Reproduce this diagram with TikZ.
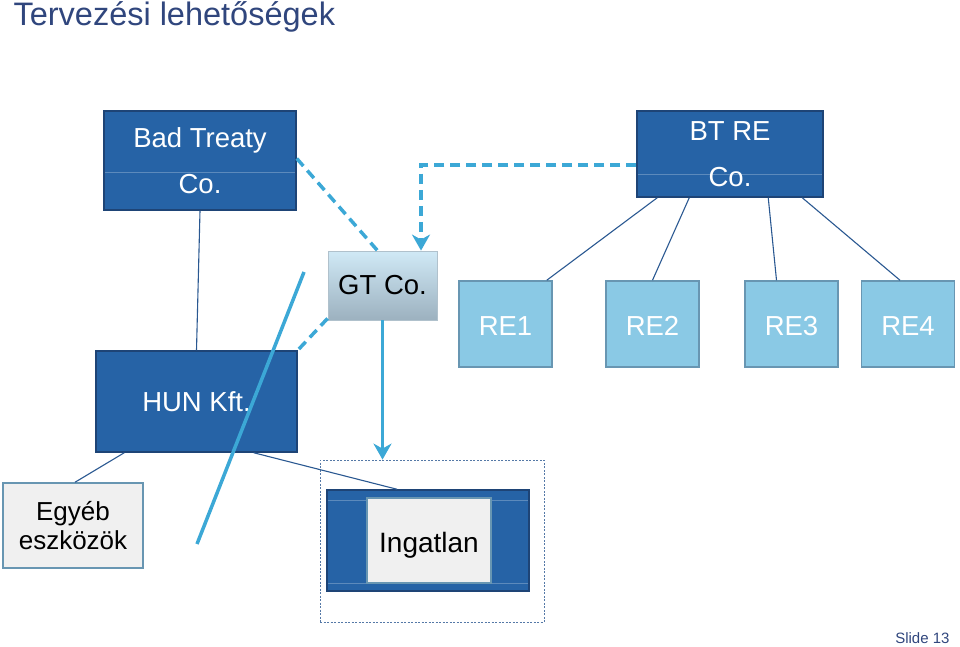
\documentclass[tikz,border=0pt]{standalone}
\usepackage{fontspec}
\setmainfont{Liberation Sans}
\usetikzlibrary{arrows.meta}
\definecolor{corpblue}{RGB}{38,99,166}
\definecolor{corpedge}{RGB}{30,68,118}
\definecolor{reblue}{RGB}{138,201,229}
\definecolor{reedge}{RGB}{104,150,178}
\definecolor{assetgray}{RGB}{240,240,240}
\definecolor{flowblue}{RGB}{60,168,214}
\definecolor{linkblue}{RGB}{42,88,145}
\definecolor{titleblue}{RGB}{48,70,125}
\definecolor{gttop}{RGB}{208,233,246}
\definecolor{gtbottom}{RGB}{156,177,191}
\begin{document}
\begin{tikzpicture}[x=1pt,y=-1pt,
  corp/.style={draw=corpedge, line width=1.5pt, fill=corpblue, text=white,
    inner sep=0pt, align=center, font=\fontsize{27.5}{46}\selectfont},
  split/.style={path picture={\draw[corpblue!75!white, line width=0.6pt]
    ([yshift=#1]path picture bounding box.west) --
    ([yshift=#1]path picture bounding box.east);}},
  sub/.style={draw=reedge, line width=1.5pt, fill=reblue, text=white,
    inner sep=0pt, minimum width=93, minimum height=86,
    text height=22pt, text depth=0pt, font=\fontsize{27.5}{30}\selectfont},
  asset/.style={draw=reedge, line width=1.5pt, fill=assetgray, text=black,
    inner sep=0pt, align=center, font=\fontsize{26}{29}\selectfont},
  link/.style={draw=linkblue, line width=1.1pt},
  flow/.style={draw=flowblue, line width=3.5pt},
  flowdash/.style={flow, dash pattern=on 10pt off 6pt},
  tip/.style={-{Stealth[width=18pt,length=16pt,inset=5pt]}}]
  \useasboundingbox (0,0) rectangle (960,647);
  % title and slide number
  \node[anchor=base west, text=titleblue, font=\fontsize{32.5}{36}\selectfont]
    (title) at (10,26) {Tervezési lehetőségek};
  \node[anchor=base east, text=titleblue, font=\fontsize{15}{18}\selectfont]
    (slide) at (953,643) {Slide 13};
  % companies
  \node[corp, split=-11.5pt, minimum width=192, minimum height=99] (bad)
    at (200,160.5) {Bad Treaty\\Co.};
  \node[corp, split=-20pt, minimum width=186, minimum height=86] (btre)
    at (730,154) {BT RE\\Co.};
  \node[corp, minimum width=201, minimum height=101] (hun) at (196.5,401.5)
    {HUN Kft.};
  \node[draw=gtbottom!80!white, line width=0.8pt, top color=gttop,
    bottom color=gtbottom, inner sep=0pt, minimum width=109, minimum height=69,
    font=\fontsize{27.5}{30}\selectfont] (gt) at (382.5,285.5) {GT Co.};
  % real estate subsidiaries
  \node[sub] (re1) at (505.5,324) {RE1};
  \node[sub] (re2) at (652.5,324) {RE2};
  \node[sub] (re3) at (791.5,324) {RE3};
  \node[sub] (re4) at (908,324) {RE4};
  % assets
  \node[asset, minimum width=140, minimum height=85] (egyeb) at (73,525.5)
    {Egyéb\\eszközök};
  \node[draw=linkblue!80, line width=0.8pt, dash pattern=on 2pt off 1.5pt,
    minimum width=224, minimum height=162] (group) at (432,541) {};
  \node[corp, minimum width=202, minimum height=101,
    path picture={\draw[corpblue!75!white, line width=0.6pt]
      ([yshift=40.5pt]path picture bounding box.west) -- ++(202,0)
      ([yshift=-43pt]path picture bounding box.west) -- ++(202,0);}]
    (ingouter) at (428,540.5) {};
  \node[asset, line width=2pt, minimum width=124, minimum height=85,
    text height=23pt, text depth=0pt, font=\fontsize{28}{30}\selectfont]
    (ingatlan) at (429,540.5) {Ingatlan};
  % ownership links
  \draw[link] (bad.south) -- (hun.north);
  \draw[link] ([xshift=21pt]btre.south west) -- ([xshift=-6pt]re1.north east);
  \draw[link] ([xshift=53pt]btre.south west) -- (re2.north);
  \draw[link] ([xshift=132pt]btre.south west) -- ([xshift=-15pt]re3.north);
  \draw[link] ([xshift=166pt]btre.south west) -- ([xshift=-8pt]re4.north);
  \draw[link] ([xshift=29pt]hun.south west) -- ([xshift=2pt]egyeb.north);
  \draw[link] ([xshift=-44pt]hun.south east) -- ([xshift=-31pt]ingouter.north);
  % planned structure
  \draw[flowdash] ([yshift=2pt]bad.east) -- ([xshift=-5pt]gt.north);
  \draw[flowdash, tip] ([yshift=-11pt]btre.west) -| ([xshift=38.5pt]gt.north);
  \draw[flowdash] ([yshift=2pt]gt.south west) -- (hun.north east);
  \draw[flow, tip] (gt.south) -- (gt.south |- group.north);
  \coordinate (cuttop) at (304,272);
  \coordinate (cutbot) at (197,544);
  \draw[flow] (cuttop) -- (cutbot);
\end{tikzpicture}
\end{document}
